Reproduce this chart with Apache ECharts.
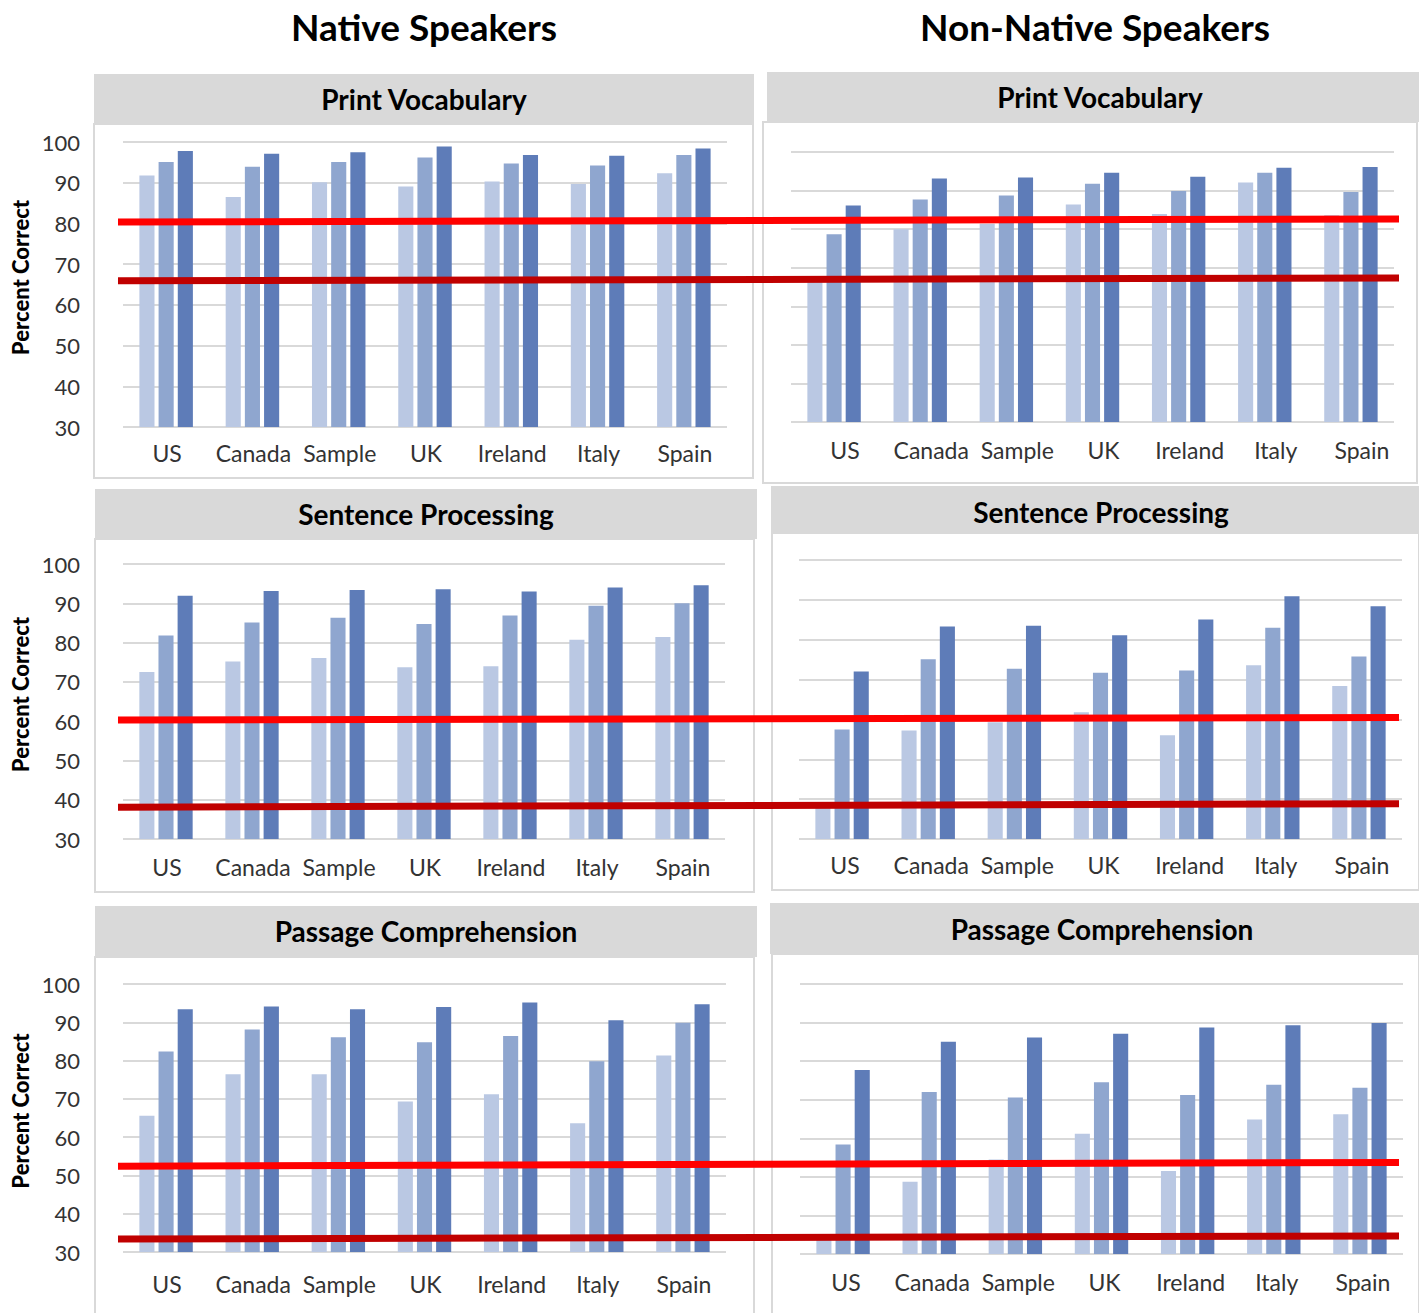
<!DOCTYPE html>
<html>
<head>
<meta charset="utf-8">
<script src="https://cdn.jsdelivr.net/npm/echarts@6/dist/echarts.min.js"></script>
<style>
html,body{margin:0;padding:0;background:#fff;}
#c{width:1419px;height:1313px;}
</style>
</head>
<body>
<div id="c"></div>
<script>
// ---------- DATA ----------
const categories = ['US', 'Canada', 'Sample', 'UK', 'Ireland', 'Italy', 'Spain'];
const yTicks = [30, 40, 50, 60, 70, 80, 90, 100];
const columnTitles = ['Native Speakers', 'Non-Native Speakers'];
const panelTitles = ['Print Vocabulary', 'Sentence Processing', 'Passage Comprehension'];
const yAxisTitle = 'Percent Correct';

// Print Vocabulary
const pvNativeLight = [91.8, 86.5, 90.1, 89.1, 90.3, 89.7, 92.3];
const pvNativeMid   = [95.1, 93.9, 95.1, 96.2, 94.7, 94.2, 96.8];
const pvNativeDark  = [97.8, 97.1, 97.5, 98.9, 96.8, 96.6, 98.4];
const pvNonLight = [67.5, 80.0, 81.4, 86.4, 83.9, 92.1, 83.6];
const pvNonMid   = [78.7, 87.7, 88.7, 91.8, 89.9, 94.6, 89.6];
const pvNonDark  = [86.1, 93.1, 93.4, 94.6, 93.6, 95.9, 96.1];
// Sentence Processing
const spNativeLight = [72.5, 75.2, 76.1, 73.7, 74.0, 80.7, 81.4];
const spNativeMid   = [81.8, 85.1, 86.3, 84.7, 86.9, 89.4, 90.0];
const spNativeDark  = [91.9, 93.1, 93.4, 93.6, 93.0, 94.0, 94.6];
const spNonLight = [39.0, 57.2, 59.3, 61.8, 56.0, 73.6, 68.4];
const spNonMid   = [57.5, 75.1, 72.7, 71.7, 72.3, 83.0, 75.8];
const spNonDark  = [72.0, 83.3, 83.5, 81.1, 85.1, 90.9, 88.4];
// Passage Comprehension
const pcNativeLight = [65.6, 76.4, 76.4, 69.3, 71.2, 63.6, 81.3];
const pcNativeMid   = [82.4, 88.1, 86.1, 84.8, 86.4, 79.8, 89.9];
const pcNativeDark  = [93.4, 94.1, 93.4, 94.0, 95.2, 90.5, 94.7];
const pcNonLight = [34.0, 48.7, 54.5, 61.2, 51.5, 64.9, 66.2];
const pcNonMid   = [58.4, 72.0, 70.6, 74.5, 71.2, 73.9, 73.1];
const pcNonDark  = [77.7, 85.0, 86.1, 87.1, 88.7, 89.3, 89.9];

// Threshold lines (value at left end, value at right end; left-panel scale)
const upperThreshold = [[80.35, 81.1], [60.3, 60.9], [52.4, 53.4]];
const lowerThreshold = [[65.9, 66.6], [38.1, 39.0], [33.4, 34.2]];

// ---------- LAYOUT / STYLE ----------
const FONT = 'Lato, "Noto Sans", sans-serif';
const barColors = ['#BAC8E3', '#8FA6CF', '#5E7CB8'];
const gridColor = '#D9D9D9';
const textColor = '#333333';

const panelData = [
  [[pvNativeLight, pvNativeMid, pvNativeDark], [pvNonLight, pvNonMid, pvNonDark]],
  [[spNativeLight, spNativeMid, spNativeDark], [spNonLight, spNonMid, spNonDark]],
  [[pcNativeLight, pcNativeMid, pcNativeDark], [pcNonLight, pcNonMid, pcNonDark]]
];

// per row, per column: header box, border box, plot box, title centre, label shift/margin, y-label lift
const layout = [
  [
    {hdr:[94,74,660,50], brd:[94,124,659,354], plot:[123,142,604,285], tc:[424,99], ls:2, lm:14, yl:4},
    {hdr:[767,72,652,50], brd:[763,122,654,361], plot:[791,152,603,270], tc:[1100,97], ls:22, lm:16, yl:0}
  ],
  [
    {hdr:[95,489,662,50], brd:[95,539,659,353], plot:[123,564,602,275], tc:[426,514], ls:2, lm:16, yl:10},
    {hdr:[771,486,648,47], brd:[772,533,647,357], plot:[799,560,603,279], tc:[1101,512], ls:6, lm:14, yl:0}
  ],
  [
    {hdr:[95,906,662,51], brd:[95,957,659,360], plot:[123,984,603,268], tc:[426,931], ls:2, lm:20, yl:10},
    {hdr:[770,903,649,51], brd:[772,954,647,362], plot:[800,984,603,270], tc:[1102,929], ls:6, lm:16, yl:0}
  ]
];
const lineSpan = [118, 1399];
const colTitlePos = [[424, 26], [1095, 26]];

const grids = [], xAxes = [], yAxes = [], series = [], graphics = [];

// column titles
columnTitles.forEach((t, i) => {
  graphics.push({type:'text', x: colTitlePos[i][0], y: colTitlePos[i][1], z: 10,
    style:{text:t, font:'bold 37px ' + FONT, fill:'#000', textAlign:'center', textVerticalAlign:'middle'}});
});

let gi = 0;
for (let r = 0; r < 3; r++) {
  for (let c = 0; c < 2; c++) {
    const L = layout[r][c];
    graphics.push({type:'rect', z: 0, shape:{x:L.brd[0], y:L.brd[1], width:L.brd[2], height:L.brd[3]},
      style:{fill:'#fff', stroke:gridColor, lineWidth:2}});
    graphics.push({type:'rect', z: 1, shape:{x:L.hdr[0], y:L.hdr[1], width:L.hdr[2], height:L.hdr[3]},
      style:{fill:'#D9D9D9'}});
    graphics.push({type:'text', x:L.tc[0], y:L.tc[1], z: 2,
      style:{text:panelTitles[r], font:'bold 28px ' + FONT, fill:'#000', textAlign:'center', textVerticalAlign:'middle'}});

    grids.push({left:L.plot[0], top:L.plot[1], width:L.plot[2], height:L.plot[3], containLabel:false, outerBoundsMode:'none'});
    xAxes.push({gridIndex:gi, type:'category', data:categories,
      axisLine:{show:false}, axisTick:{show:false},
      axisLabel:{color:textColor, fontFamily:FONT, fontSize:23, margin:L.lm, interval:0,
        padding:[0, 0, 0, L.ls]}});
    yAxes.push({gridIndex:gi, type:'value', min:yTicks[0], max:yTicks[yTicks.length-1], interval:10,
      axisLine:{show:false}, axisTick:{show:false},
      splitLine:{show:true, lineStyle:{color:gridColor, width:2}},
      axisLabel:{show:c === 0, color:textColor, fontFamily:FONT, fontSize:22, margin:43,
        padding:[0, 0, L.yl, 0]},
      name: c === 0 ? yAxisTitle : '', nameLocation:'middle', nameGap:92, nameRotate:90,
      nameTextStyle:{fontFamily:FONT, fontWeight:900, fontSize:22, color:'#000', padding:[0, 0, 0, 14]}});
    const d = panelData[r][c];
    for (let s = 0; s < 3; s++) {
      series.push({type:'bar', xAxisIndex:gi, yAxisIndex:gi, data:d[s],
        barGap:'27%', barCategoryGap:'38%', z:2,
        itemStyle:{color:barColors[s]}, silent:true});
    }
    gi++;
  }
}

// threshold overlay grids (one per row, spanning both columns, left-panel scale)
for (let r = 0; r < 3; r++) {
  const P = layout[r][0].plot;
  grids.push({left:lineSpan[0], top:P[1], width:lineSpan[1]-lineSpan[0], height:P[3], containLabel:false, outerBoundsMode:'none'});
  xAxes.push({gridIndex:gi, type:'value', min:0, max:1, show:false});
  yAxes.push({gridIndex:gi, type:'value', min:yTicks[0], max:yTicks[yTicks.length-1], show:false});
  [[upperThreshold[r], '#FF0000'], [lowerThreshold[r], '#C00000']].forEach(([v, col]) => {
    series.push({type:'line', xAxisIndex:gi, yAxisIndex:gi, z:10, symbol:'none', silent:true,
      data:[[0, v[0]], [1, v[1]]], lineStyle:{color:col, width:7, cap:'butt'}});
  });
  gi++;
}

const chart = echarts.init(document.getElementById('c'), null, {renderer:'svg'});
chart.setOption({
  backgroundColor:'#fff',
  animation:false,
  graphic:{elements:graphics},
  grid:grids, xAxis:xAxes, yAxis:yAxes, series:series
});
</script>
</body>
</html>
